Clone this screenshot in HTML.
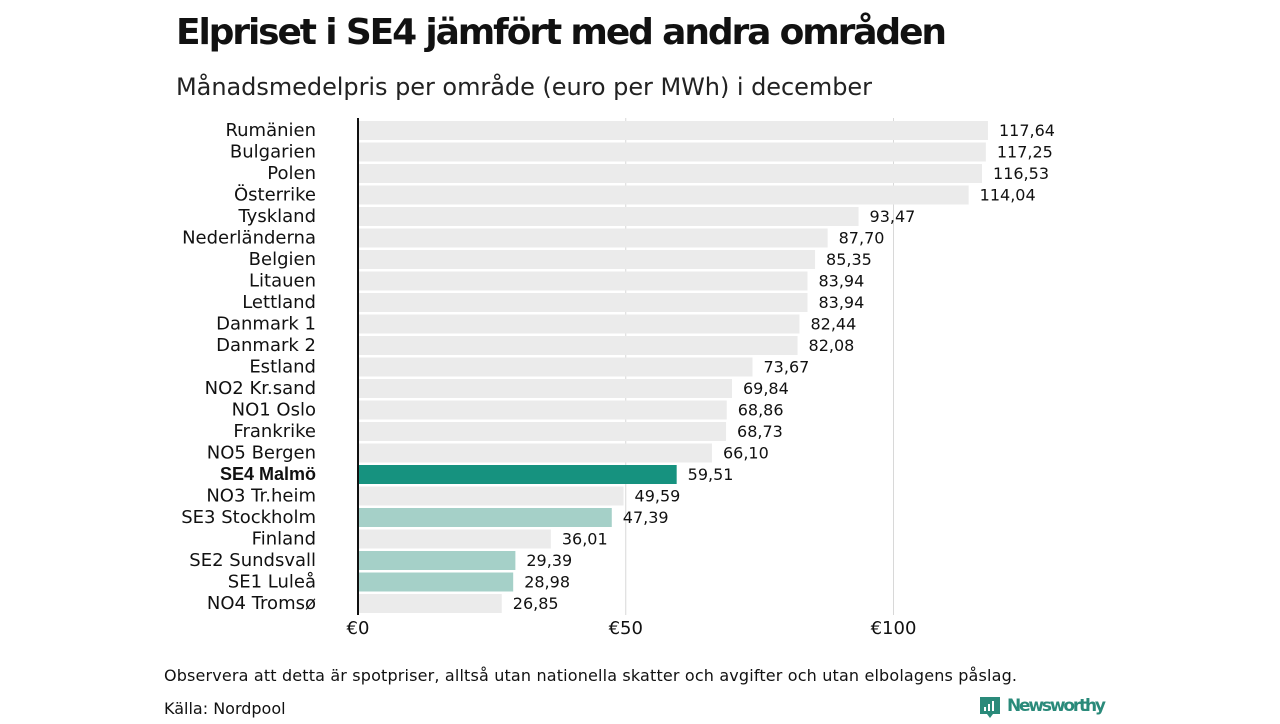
<!DOCTYPE html>
<html><head><meta charset="utf-8"><style>
body{margin:0;background:#fff;width:1280px;height:720px;overflow:hidden;font-family:"DejaVu Sans","Liberation Sans",sans-serif;}
</style></head><body>
<svg width="1280" height="720" xmlns="http://www.w3.org/2000/svg">
<text x="176" y="44" font-size="36" font-weight="bold" font-family="'DejaVu Sans',sans-serif" fill="#111" textLength="771">Elpriset i SE4 jämfört med andra områden</text>
<text x="176" y="95" font-size="24" fill="#222" textLength="696">Månadsmedelpris per område (euro per MWh) i december</text>
<g id="grid"></g>
<g id="bars"></g>
<line x1="358" y1="118" x2="358" y2="615" stroke="#111" stroke-width="2"/>
<text x="164" y="681" font-size="16" fill="#111" textLength="853">Observera att detta är spotpriser, alltså utan nationella skatter och avgifter och utan elbolagens påslag.</text>
<text x="164" y="714" font-size="16" fill="#111">Källa: Nordpool</text>
<g>
<path d="M980 697h20v17h-7l-3 4-3-4h-7z" fill="#2a8a7a"/>
<rect x="984" y="707" width="2" height="4" fill="#fff"/><rect x="988" y="704" width="2" height="7" fill="#fff"/><rect x="992" y="701" width="2" height="10" fill="#fff"/>
<text x="1007" y="711" font-size="17" font-weight="bold" fill="#2a8a7a" textLength="99">Newsworthy</text>
</g>
</svg>
<script>
const categories=["Rumänien","Bulgarien","Polen","Österrike","Tyskland","Nederländerna","Belgien","Litauen","Lettland","Danmark 1","Danmark 2","Estland","NO2 Kr.sand","NO1 Oslo","Frankrike","NO5 Bergen","SE4 Malmö","NO3 Tr.heim","SE3 Stockholm","Finland","SE2 Sundsvall","SE1 Luleå","NO4 Tromsø"];
const values=[117.64,117.25,116.53,114.04,93.47,87.70,85.35,83.94,83.94,82.44,82.08,73.67,69.84,68.86,68.73,66.10,59.51,49.59,47.39,36.01,29.39,28.98,26.85];
const ticks=[0,50,100];
const tickLabels=["€0","€50","€100"];
const NS="http://www.w3.org/2000/svg";
const x=v=>358+v*5.355;
const y=i=>121+i*21.5;
const grid=document.getElementById('grid'),bars=document.getElementById('bars');
function mk(t,a,p){const e=document.createElementNS(NS,t);for(const k in a)e.setAttribute(k,a[k]);p.appendChild(e);return e;}
ticks.forEach((t,i)=>{
 if(t>0){const l=mk('line',{x1:x(t),x2:x(t),y1:118,y2:615,stroke:'#d8d8d8','stroke-width':1},grid);
 
 }
 const tx=mk('text',{x:x(t),y:634,'font-size':18,'text-anchor':'middle',fill:'#111'},grid);
 tx.textContent=tickLabels[i];
 
 
});
categories.forEach((c,i)=>{
 let col='#ebebeb';
 if(c.startsWith('SE4'))col='#16927f';else if(c.startsWith('SE'))col='#a5d0c8';
 const r=mk('rect',{x:359,y:y(i),width:x(values[i])-359,height:19,fill:col},bars);
 
 
 const lb=mk('text',{x:316,y:y(i)+15,'font-size':18,'text-anchor':'end',fill:'#111'},bars);
 if(c.startsWith('SE4')){lb.setAttribute('font-weight','bold');lb.setAttribute('font-family',"'Liberation Sans',sans-serif");}
 lb.textContent=c;
 
 
 const vl=mk('text',{x:x(values[i])+11,y:y(i)+15,'font-size':16,fill:'#111'},bars);
 vl.textContent=values[i].toFixed(2).replace('.',',');
 
 
});
</script>
</body></html>
